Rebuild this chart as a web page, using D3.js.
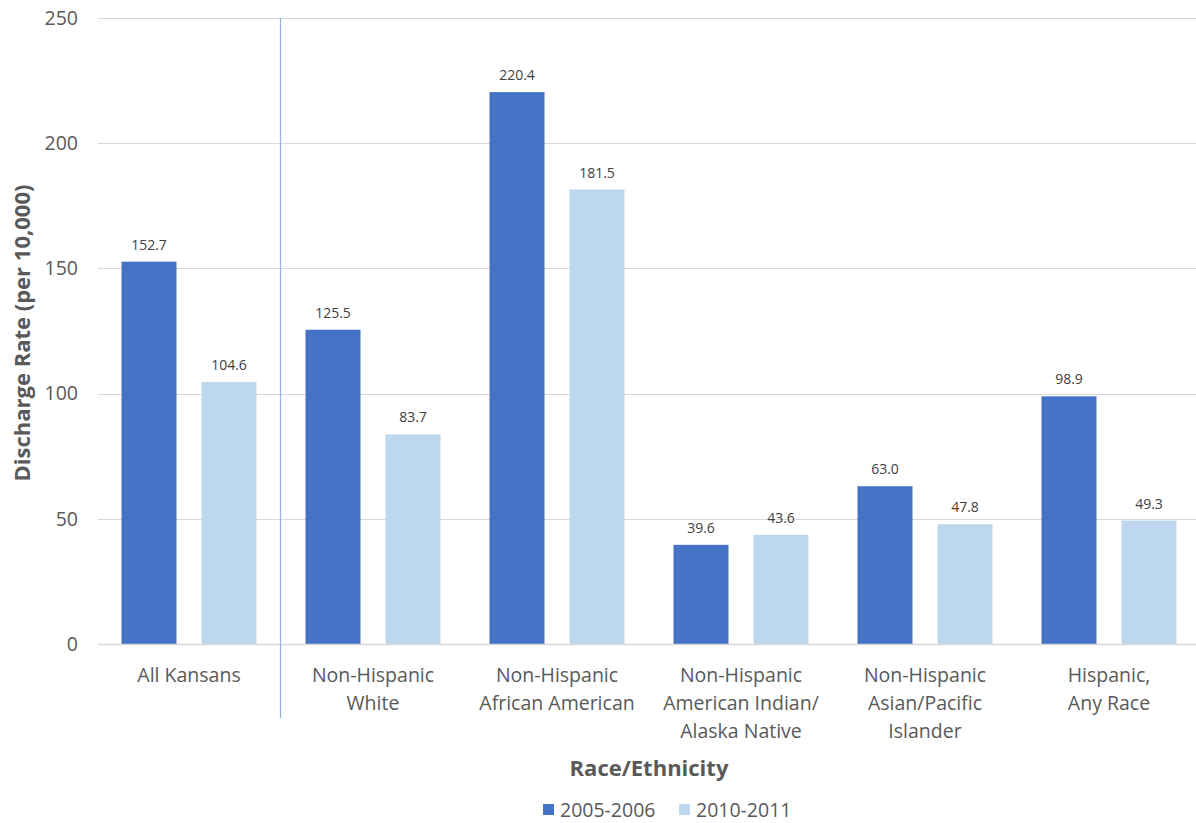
<!DOCTYPE html>
<html><head><meta charset="utf-8">
<script src="https://cdn.jsdelivr.net/npm/d3@7/dist/d3.min.js"></script>
<style>body{margin:0;background:#fff}svg{display:block}text{font-family:"Open Sans","Segoe UI",sans-serif}</style>
</head><body><svg id="c" width="1196" height="823"></svg>
<script>
const categories = [
  ["All Kansans"],
  ["Non-Hispanic", "White"],
  ["Non-Hispanic", "African American"],
  ["Non-Hispanic", "American Indian/", "Alaska Native"],
  ["Non-Hispanic", "Asian/Pacific", "Islander"],
  ["Hispanic,", "Any Race"]
];
const seriesNames = ["2005-2006", "2010-2011"];
const values2005 = [152.7, 125.5, 220.4, 39.6, 63.0, 98.9];
const values2010 = [104.6, 83.7, 181.5, 43.6, 47.8, 49.3];
const yTicks = [0, 50, 100, 150, 200, 250];
const colors = ["#4472C4", "#BDD7EE"];

(function () {
const svg = d3.select("#c");
const pLeft = 97, pRight = 1201, pTop = 18, pBottom = 644, gridLeft = 98, gridRight = 1196;
const x = d3.scaleBand().domain(d3.range(categories.length)).range([pLeft, pRight]).paddingInner(0).paddingOuter(0);
const xs = d3.scaleBand().domain([0, 1]).range([0, x.bandwidth()]).paddingInner(0.3125).paddingOuter(0.30625);
const y = d3.scaleLinear().domain([0, 250]).range([pBottom, pTop]);

svg.append("g").selectAll("line").data(yTicks).join("line")
  .attr("x1", gridLeft).attr("x2", gridRight)
  .attr("y1", d => Math.round(y(d)) + 0.5).attr("y2", d => Math.round(y(d)) + 0.5)
  .attr("stroke", "#d9d9d9").attr("stroke-width", 1.2);

const yAxis = d3.axisLeft(y).tickValues(yTicks).tickSize(0).tickPadding(0);
const ya = svg.append("g").attr("transform", `translate(78,0)`).call(yAxis);
ya.select(".domain").remove();
ya.selectAll("text").attr("font-size", 19.5).attr("fill", "#595959").attr("font-family", "Open Sans");

const data = categories.map((c, i) => [values2005[i], values2010[i]]);
const g = svg.append("g");
data.forEach((vals, i) => {
  vals.forEach((v, s) => {
    const bx = x(i) + xs(s);
    g.append("rect").attr("x", bx).attr("y", y(v)).attr("width", xs.bandwidth())
      .attr("height", y(0) - y(v)).attr("fill", colors[s]);
    g.append("text").attr("x", bx + xs.bandwidth() / 2).attr("y", y(v) - 12)
      .attr("text-anchor", "middle").attr("font-size", 14).attr("fill", "#404040")
      .text(v.toFixed(1));
  });
});

svg.append("line").attr("x1", gridLeft).attr("x2", gridRight).attr("y1", y(0) + 0.5).attr("y2", y(0) + 0.5)
  .attr("stroke", "#d9d9d9").attr("stroke-width", 1.5);

svg.append("line").attr("x1", x(1) - 0.5).attr("x2", x(1) - 0.5).attr("y1", pTop).attr("y2", 718)
  .attr("stroke", "#8db3e2").attr("stroke-width", 1.2);

categories.forEach((lines, i) => {
  const t = svg.append("text").attr("text-anchor", "middle").attr("font-size", 19.5).attr("fill", "#595959");
  lines.forEach((l, k) => {
    t.append("tspan").attr("x", x(i) + x.bandwidth() / 2).attr("y", 682 + k * 28).text(l);
  });
});

svg.append("text").attr("transform", `translate(30,${(pTop + pBottom) / 2 + 2}) rotate(-90)`)
  .attr("text-anchor", "middle").attr("font-size", 22).attr("font-weight", "bold").attr("fill", "#595959")
  .text("Discharge Rate (per 10,000)");
svg.append("text").attr("x", 649).attr("y", 776).attr("text-anchor", "middle")
  .attr("font-size", 22).attr("font-weight", "bold").attr("fill", "#595959").text("Race/Ethnicity");

const legX = [543, 679];
seriesNames.forEach((n, s) => {
  svg.append("rect").attr("x", legX[s]).attr("y", 804).attr("width", 11).attr("height", 11).attr("fill", colors[s]);
  svg.append("text").attr("x", legX[s] + 17).attr("y", 817).attr("font-size", 19.5).attr("fill", "#595959").text(n);
});
})();
</script></body></html>
